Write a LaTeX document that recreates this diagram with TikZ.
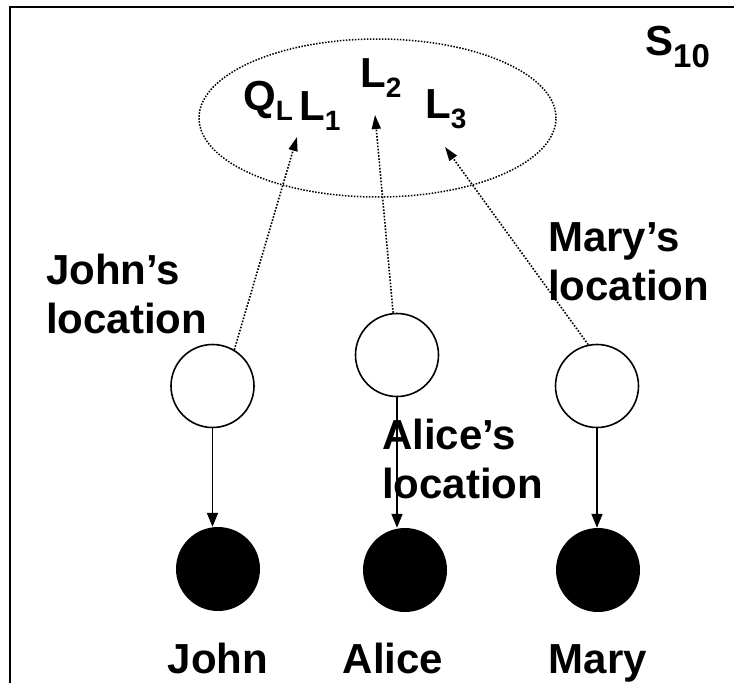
\documentclass[tikz,border=0pt]{standalone}
\usepackage{fontspec}
\setmainfont{Liberation Sans}
\usetikzlibrary{arrows.meta,shapes.geometric}
\newcommand{\lowsub}[1]{\raisebox{-10pt}{\fontsize{28}{28}\selectfont #1}}
\newcommand{\bigsub}[1]{\raisebox{-12pt}{\fontsize{33}{33}\selectfont #1}}

\begin{document}
\begin{tikzpicture}[x=1pt,y=-1pt, lbl/.style={inner sep=0pt,font=\fontsize{42}{49}\selectfont\bfseries,align=left}, hid/.style={draw,circle,line width=1.6pt,minimum size=83pt,inner sep=0pt}, obs/.style={fill,circle,minimum size=84pt,inner sep=0pt}, dep/.style={line width=1.8pt,-{Triangle[length=14pt,width=11pt]}}, link/.style={line width=1.6pt,dash pattern=on 1.6pt off 1.6pt,-{Triangle[length=14pt,width=9pt]}}]
\useasboundingbox (0,0) rectangle (734,683);
\draw[line width=2pt] (734,7) -- (10,7) -- (10,683);
\node[lbl,anchor=base west] (S) at (645,55) {S\bigsub{10}};
\node[draw,ellipse,line width=1.5pt,dash pattern=on 1.5pt off 1.5pt,minimum width=357pt,minimum height=158pt,inner sep=0pt] (Ls) at (377.5,118) {};
\node[lbl,anchor=base west] (Q) at (243,110) {Q\lowsub{L}};
\node[lbl,anchor=base west] (L1) at (299,120) {L\lowsub{1}};
\node[lbl,anchor=base west] (L2) at (360,87) {L\lowsub{2}};
\node[lbl,anchor=base west] (L3) at (425,118) {L\lowsub{3}};
\node[hid] (JL) at (212.5,386) {};
\node[hid] (AL) at (397,355) {};
\node[hid] (ML) at (597,386) {};
\node[obs] (J) at (218,569) {};
\node[obs] (A) at (405,570) {};
\node[obs] (M) at (598,570) {};
\node[lbl,anchor=base west] (JT) at (46,333) {John’s\\location};
\node[lbl,anchor=base west] (AT) at (382,498) {Alice’s\\location};
\node[lbl,anchor=base west] (MT) at (548,300) {Mary’s\\location};
\node[lbl,anchor=base] (JN) at (218,673) {John};
\node[lbl,anchor=base] (AN) at (393,673) {Alice};
\node[lbl,anchor=base] (MN) at (598,673) {Mary};
\coordinate (t1) at (297,137);
\coordinate (t2) at (375,115);
\coordinate (t3) at (445,147);
\draw[link] (JL.59) -- (t1);
\draw[link] (AL) -- (t2);
\draw[link] (ML.102) -- (t3);
\draw[dep] (JL) -- (JL |- J.north);
\draw[dep] (AL) -- (AL |- A.north);
\draw[dep] (ML) -- (ML |- M.north);
\end{tikzpicture}
\end{document}
